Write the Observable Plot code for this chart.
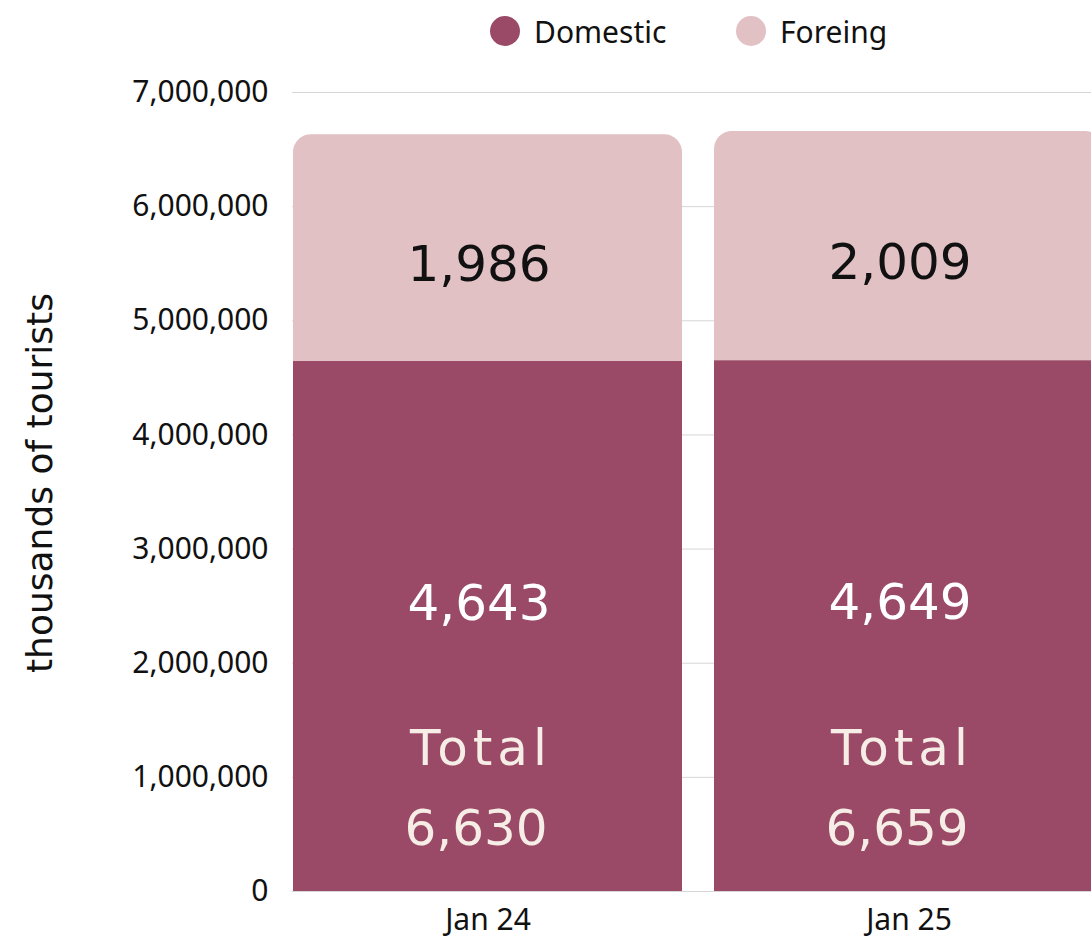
<!DOCTYPE html>
<html>
<head>
<meta charset="utf-8">
<script src="https://cdn.jsdelivr.net/npm/d3@7"></script>
<script src="https://cdn.jsdelivr.net/npm/@observablehq/plot@0.6"></script>
<style>
  html, body { margin: 0; padding: 0; background: #ffffff; overflow: hidden; }
  #wrap { width: 1091px; height: 938px; position: relative; }
  #legend { height: 62px; position: relative; font-family: "Noto Sans", sans-serif; font-size: 30px; color: #111; }
  .item { position: absolute; top: 9px; display: flex; align-items: center; height: 44px; }
  .dot { width: 30px; height: 30px; border-radius: 50%; margin-right: 14px; }
  svg { display: block; }
</style>
</head>
<body>
<div id="wrap">
  <div id="legend"></div>
  <div id="chart"></div>
</div>
<script>
const months = ["Jan 24", "Jan 25"];
const domestic = [4643000, 4649000];
const foreign = [1986000, 2009000];
const totals = [6630000, 6659000];
const yTicks = [0, 1000000, 2000000, 3000000, 4000000, 5000000, 6000000, 7000000];
const seriesNames = ["Domestic", "Foreing"];
const seriesColors = ["#9a4a67", "#e2c1c4"];
const legendLeft = [490, 736];

const table = months.map((m, i) => ({month: m, domestic: domestic[i], foreign: foreign[i], total: totals[i]}));
const fmtK = v => d3.format(",")(Math.round(v / 1000));

// legend
const legend = document.getElementById("legend");
seriesNames.forEach((name, i) => {
  const it = document.createElement("div");
  it.className = "item";
  it.style.left = legendLeft[i] + "px";
  const dot = document.createElement("span");
  dot.className = "dot";
  dot.style.background = seriesColors[i];
  const lab = document.createElement("span");
  lab.textContent = name;
  it.appendChild(dot); it.appendChild(lab);
  legend.appendChild(it);
});

const labelFont = "DejaVu Sans, sans-serif";

const chart = Plot.plot({
  width: 1091,
  height: 876,
  marginLeft: 292,
  marginRight: 0,
  marginTop: 30,
  marginBottom: 47,
  style: {fontFamily: "Noto Sans, sans-serif", fontSize: "30px", color: "#111", background: "transparent"},
  x: {domain: months, range: [292.5, 1103], paddingInner: 0.075, paddingOuter: 0, label: null},
  y: {domain: [0, 7000000], label: null},
  marks: [
    Plot.gridY(yTicks, {stroke: "#d6d6d6", strokeOpacity: 1, strokeWidth: 1}),
    Plot.rectY(table, {x: "month", y1: 0, y2: "total", fill: seriesColors[1], rx: 18}),
    Plot.rectY(table, {x: "month", y1: 0, y2: "domestic", fill: seriesColors[0]}),
    Plot.axisY({ticks: yTicks, tickSize: 0, tickPadding: 24, tickFormat: d3.format(","), fontSize: 30, label: null}),
    Plot.axisX({tickSize: 0, tickPadding: 17, fontSize: 30, label: null}),
    Plot.text(table, {x: "month", y: d => d.domestic + d.foreign / 2, text: d => fmtK(d.foreign), dx: -9, dy: 17, fontSize: 50, fontFamily: labelFont, fill: "#111"}),
    Plot.text(table, {x: "month", y: d => d.domestic / 2, text: d => fmtK(d.domestic), dx: -9, dy: -23, fontSize: 50, fontFamily: labelFont, fill: "#ffffff"}),
    Plot.text(table, {x: "month", y: 0, text: () => "Total", dx: -7, dy: -143, fontSize: 50, fontFamily: labelFont, fill: "#f5ede6"}),
    Plot.text(table, {x: "month", y: 0, text: d => fmtK(d.total), dx: -12, dy: -63, fontSize: 50, fontFamily: labelFont, fill: "#f5ede6"}),
    Plot.text(["thousands of tourists"], {frameAnchor: "left", text: d => d, textAnchor: "middle", rotate: -90, dx: -252, dy: -9, fontSize: 36, fontFamily: labelFont, fill: "#111"})
  ]
});
chart.querySelectorAll("text").forEach(t => {
  if (t.textContent === "Total") t.style.letterSpacing = "5px";
});
document.getElementById("chart").appendChild(chart);
</script>
</body>
</html>
